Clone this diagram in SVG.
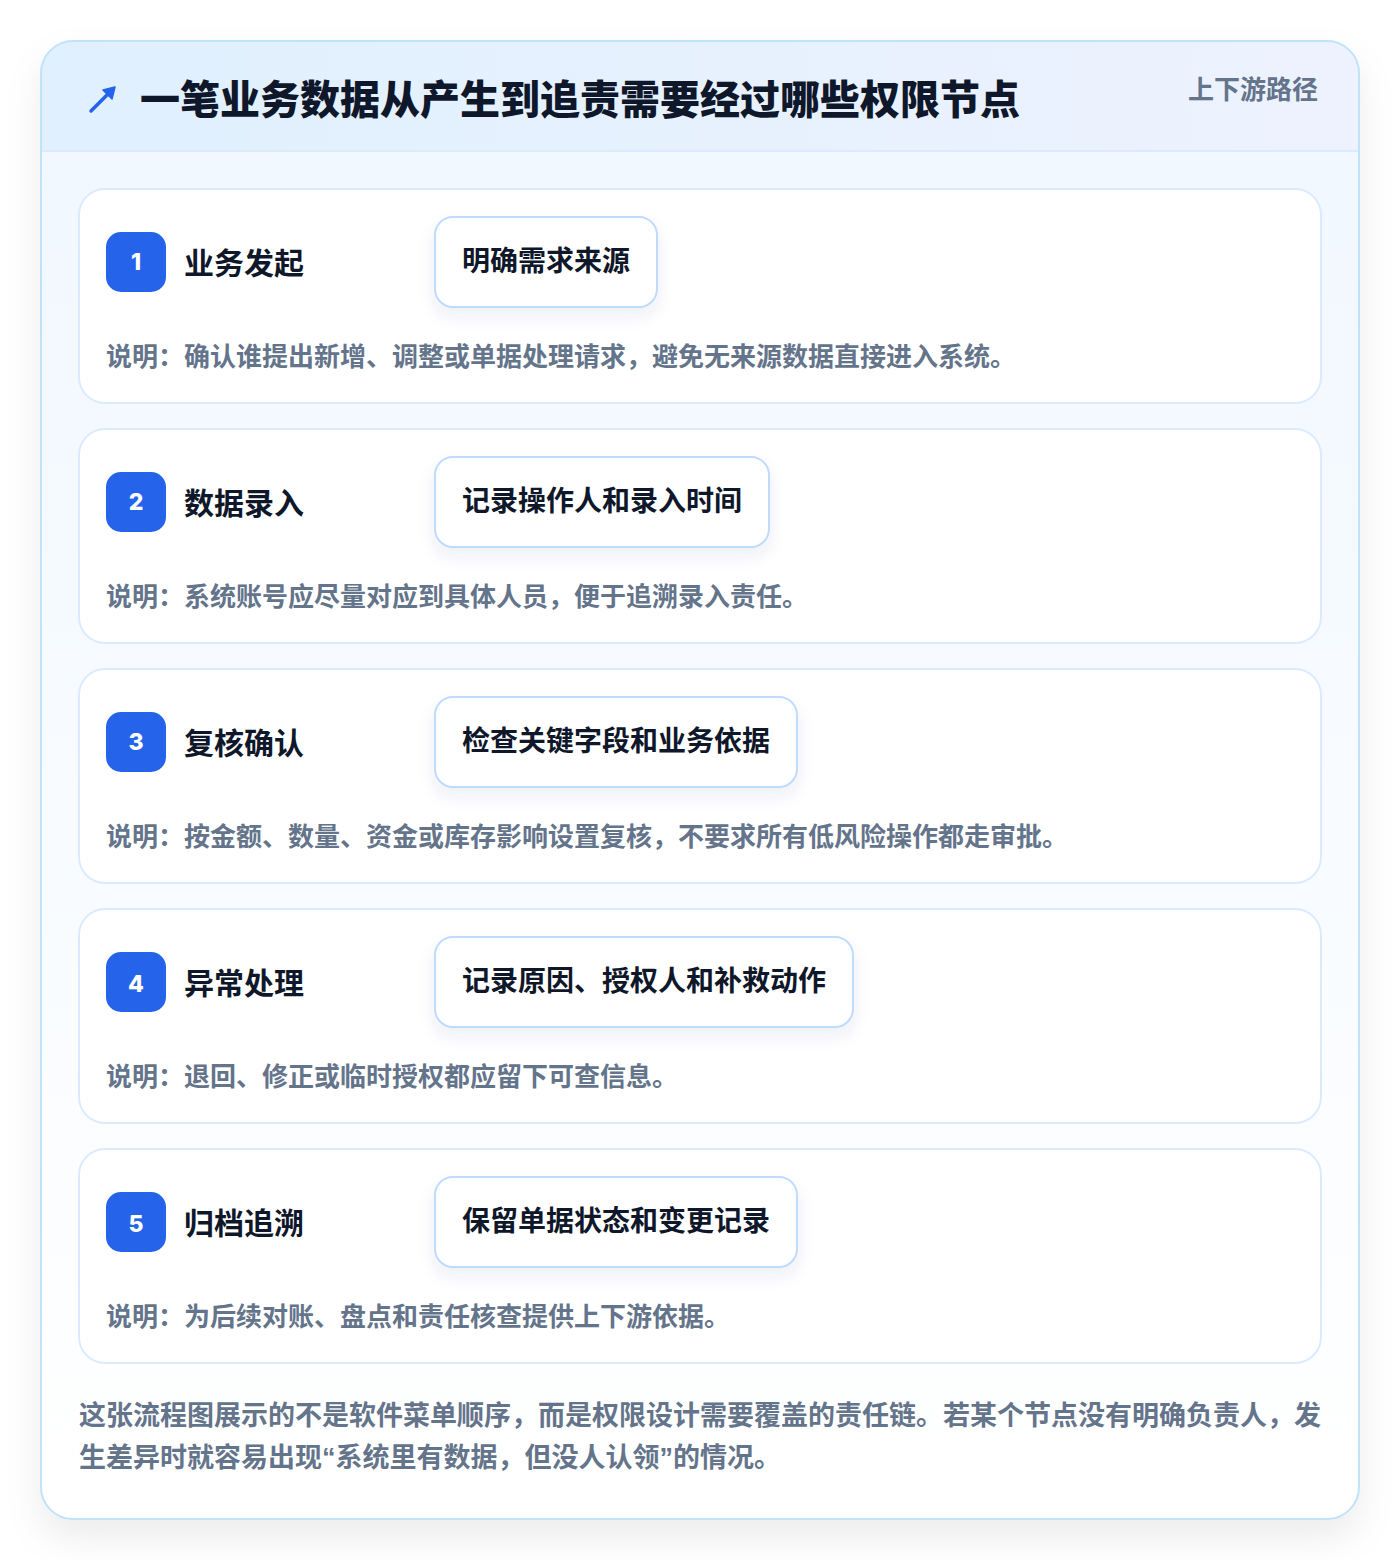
<svg xmlns="http://www.w3.org/2000/svg" width="1400" height="1560" viewBox="0 0 1400 1560">
<defs>
<linearGradient id="hdr" x1="0" y1="0" x2="1" y2="0">
<stop offset="0" stop-color="#e0f0fe"/>
<stop offset="1" stop-color="#edf2fe"/>
</linearGradient>
<linearGradient id="body" x1="0" y1="0" x2="0" y2="1">
<stop offset="0" stop-color="#f0f7ff"/>
<stop offset="1" stop-color="#ffffff"/>
</linearGradient>
<clipPath id="panelClip"><rect x="41" y="41" width="1318" height="1478" rx="32"/></clipPath>
<filter id="panelShadow" x="-10%" y="-10%" width="120%" height="120%">
<feDropShadow dx="0" dy="18" stdDeviation="18" flood-color="#0f172a" flood-opacity="0.08"/>
</filter>
<filter id="pillShadow" x="-20%" y="-40%" width="140%" height="200%">
<feDropShadow dx="0" dy="8" stdDeviation="8" flood-color="#1e3a8a" flood-opacity="0.08"/>
</filter>
</defs>
<style>
text{font-family:"Noto Sans CJK SC","Noto Sans",sans-serif;font-weight:700}
.card{fill:#ffffff;stroke:#dbeafe;stroke-width:2}
.badge{fill:#2563eb}
.num{fill:#ffffff;font-size:23px;text-anchor:middle;font-family:"Inter","Noto Sans",sans-serif;font-weight:800}
.ttl{fill:#0f172a;font-size:30px}
.pill{fill:#ffffff;stroke:#bfdbfe;stroke-width:2}
.ptx{fill:#0f172a;font-size:28px}
.desc{fill:#64748b;font-size:26px}
.foot{fill:#64748b;font-size:27px}
.q{font-family:"Liberation Sans",sans-serif}
</style>
<rect x="0" y="0" width="1400" height="1560" fill="#ffffff"/>
<g id="panel">
<rect x="41" y="41" width="1318" height="1478" rx="32" fill="url(#body)" filter="url(#panelShadow)"/>
<g clip-path="url(#panelClip)">
<rect x="41" y="41" width="1318" height="110" fill="url(#hdr)"/>
<line x1="41" y1="151" x2="1359" y2="151" stroke="#dbeafe" stroke-width="2"/>
</g>
<rect x="41" y="41" width="1318" height="1478" rx="32" fill="none" stroke="#bfe3f9" stroke-width="2"/>
</g>
<g id="header">
<g id="icon" stroke="#2563eb" stroke-width="3.5" stroke-linecap="round" fill="#2563eb">
<line x1="91" y1="111" x2="110" y2="92"/>
<polygon points="115,87 103,90 112,99" stroke-width="1.5" stroke-linejoin="round"/>
</g>
<text x="140" y="114" fill="#0f172a" style="font-size:40px;font-weight:900">一笔业务数据从产生到追责需要经过哪些权限节点</text>
<text x="1318" y="99" fill="#64748b" text-anchor="end" style="font-size:26px">上下游路径</text>
</g>
<g id="step1">
<rect class="card" x="79" y="189" width="1242" height="214" rx="26"/>
<rect class="badge" x="106" y="232" width="60" height="60" rx="15"/>
<text class="num" x="136" y="270">1</text>
<text class="ttl" x="184" y="274">业务发起</text>
<rect class="pill" x="435" y="217" width="222" height="90" rx="18" filter="url(#pillShadow)"/>
<text class="ptx" x="462" y="271">明确需求来源</text>
<text class="desc" x="106" y="366">说明：确认谁提出新增、调整或单据处理请求，避免无来源数据直接进入系统。</text>
</g>
<g id="step2">
<rect class="card" x="79" y="429" width="1242" height="214" rx="26"/>
<rect class="badge" x="106" y="472" width="60" height="60" rx="15"/>
<text class="num" x="136" y="510">2</text>
<text class="ttl" x="184" y="514">数据录入</text>
<rect class="pill" x="435" y="457" width="334" height="90" rx="18" filter="url(#pillShadow)"/>
<text class="ptx" x="462" y="511">记录操作人和录入时间</text>
<text class="desc" x="106" y="606">说明：系统账号应尽量对应到具体人员，便于追溯录入责任。</text>
</g>
<g id="step3">
<rect class="card" x="79" y="669" width="1242" height="214" rx="26"/>
<rect class="badge" x="106" y="712" width="60" height="60" rx="15"/>
<text class="num" x="136" y="750">3</text>
<text class="ttl" x="184" y="754">复核确认</text>
<rect class="pill" x="435" y="697" width="362" height="90" rx="18" filter="url(#pillShadow)"/>
<text class="ptx" x="462" y="751">检查关键字段和业务依据</text>
<text class="desc" x="106" y="846">说明：按金额、数量、资金或库存影响设置复核，不要求所有低风险操作都走审批。</text>
</g>
<g id="step4">
<rect class="card" x="79" y="909" width="1242" height="214" rx="26"/>
<rect class="badge" x="106" y="952" width="60" height="60" rx="15"/>
<text class="num" x="136" y="992">4</text>
<text class="ttl" x="184" y="994">异常处理</text>
<rect class="pill" x="435" y="937" width="418" height="90" rx="18" filter="url(#pillShadow)"/>
<text class="ptx" x="462" y="991">记录原因、授权人和补救动作</text>
<text class="desc" x="106" y="1086">说明：退回、修正或临时授权都应留下可查信息。</text>
</g>
<g id="step5">
<rect class="card" x="79" y="1149" width="1242" height="214" rx="26"/>
<rect class="badge" x="106" y="1192" width="60" height="60" rx="15"/>
<text class="num" x="136" y="1232">5</text>
<text class="ttl" x="184" y="1234">归档追溯</text>
<rect class="pill" x="435" y="1177" width="362" height="90" rx="18" filter="url(#pillShadow)"/>
<text class="ptx" x="462" y="1231">保留单据状态和变更记录</text>
<text class="desc" x="106" y="1326">说明：为后续对账、盘点和责任核查提供上下游依据。</text>
</g>
<g id="connectors"></g>
<g id="footer">
<text class="foot" x="79" y="1425">这张流程图展示的不是软件菜单顺序，而是权限设计需要覆盖的责任链。若某个节点没有明确负责人，发</text>
<text class="foot" x="79" y="1467">生差异时就容易出现<tspan class="q">“</tspan>系统里有数据，但没人认领<tspan class="q">”</tspan>的情况。</text>
</g>
</svg>
